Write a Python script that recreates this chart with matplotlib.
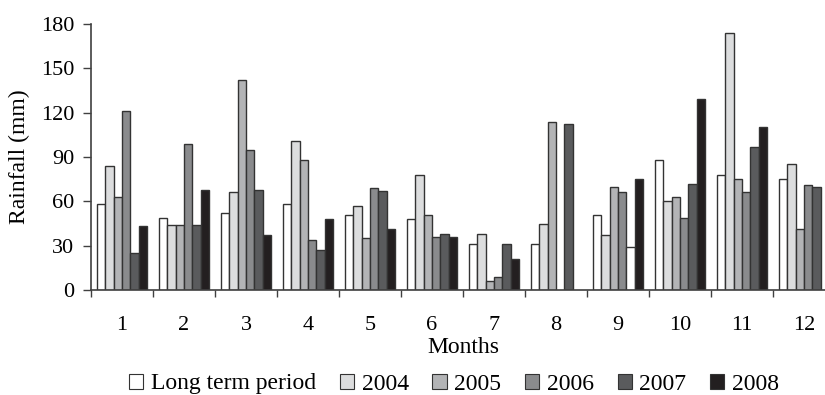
import numpy as np
import matplotlib
matplotlib.use("Agg")
import matplotlib.pyplot as plt
from matplotlib.patches import Patch

plt.rcParams.update({
    "font.family": "serif",
    "font.serif": ["Liberation Serif", "DejaVu Serif"],
    "font.size": 16,
})

months = [str(m) for m in range(1, 13)]
nan = np.nan
long_term = [58, 49, 52, 58, 51, 48, 31, 31, 51, 88, 78, 75]
y2004 = [84, 44, 66, 101, 57, 78, 38, 45, 37, 60, 174, 85]
y2005 = [63, 44, 142, 88, 35, 51, 6, 114, 70, 63, 75, 41]
y2006 = [121, 99, 95, 34, 69, 36, 9, nan, 66, 49, 66, 71]
y2007 = [25, 44, 68, 27, 67, 38, 31, 112, 29, 72, 97, 70]
y2008 = [43, 68, 37, 48, 41, 36, 21, nan, 75, 129, 110, nan]

series = [long_term, y2004, y2005, y2006, y2007, y2008]
labels = ["Long term period", "2004", "2005", "2006", "2007", "2008"]
colors = ["#ffffff", "#dcddde", "#b3b4b6", "#8a8b8d", "#5a5b5d", "#231f20"]
edge = "#333333"

fig = plt.figure(figsize=(8.25, 3.95), dpi=100)
ax = fig.add_axes([91 / 825, 105 / 395, 744 / 825, 266 / 395])

x = np.arange(1, 13)
w = 0.8 / 6
for i, (vals, col) in enumerate(zip(series, colors)):
    bars = ax.bar(x + (i - 2.5) * w, vals, width=w, color=col,
                  edgecolor=edge, linewidth=1.0)
    if i == 4:
        # this bar looks white in the source picture
        bars[8].set_facecolor("white")

ax.set_xlim(0.5, 12.5)
ax.set_ylim(0, 180)
ax.set_yticks(np.arange(0, 181, 30))

ax.set_xticks(np.arange(0.5, 12.6, 1.0))
ax.set_xticklabels([])
ax.set_xticks(x, minor=True)
ax.set_xticklabels(months, minor=True)
ax.tick_params(axis="x", which="major", direction="out", length=5,
               color="#404040", width=1)
ax.tick_params(axis="x", which="minor", length=0, pad=19)
ax.tick_params(axis="y", direction="out", length=6, color="#404040",
               width=1, pad=6)

for s in ["top", "right"]:
    ax.spines[s].set_visible(False)
for s in ["left", "bottom"]:
    ax.spines[s].set_color("#404040")
    ax.spines[s].set_linewidth(1.2)

ax.set_ylabel("Rainfall (mm)", fontsize=17, labelpad=8)
ax.set_xlabel("Months", fontsize=17, labelpad=1)

handles = [Patch(facecolor=c, edgecolor=edge, linewidth=0.8) for c in colors]
fig.legend(handles, labels, loc="center", ncol=6, frameon=False,
           fontsize=17, bbox_to_anchor=(454 / 825, 11 / 395),
           handlelength=0.6, handleheight=0.6, handletextpad=0.33,
           columnspacing=1.0, borderpad=0)

fig.savefig("out.png", dpi=100)
